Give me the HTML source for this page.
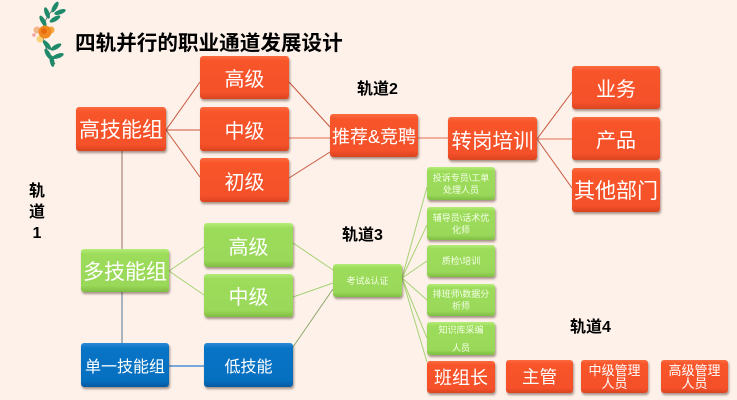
<!DOCTYPE html>
<html><head><meta charset="utf-8">
<style>
html,body{margin:0;padding:0;}
body{width:737px;height:400px;background:#fdf1e9;position:relative;overflow:hidden;font-family:"Liberation Sans","Noto Sans CJK SC",sans-serif;}
.b{position:absolute;box-sizing:border-box;border-radius:3px;color:#fff;display:flex;align-items:center;justify-content:center;text-align:center;white-space:nowrap;box-shadow:1px 2px 2px rgba(60,30,20,0.45);}
.o{background:linear-gradient(#fb6a40 0%,#f9552a 12%,#f5512a 85%,#d9441f 100%);}
.g{background:linear-gradient(#b4ec78 0%,#9ddc5b 12%,#9ad859 85%,#7fbc43 100%);}
.u{background:linear-gradient(#2a8ad6 0%,#0874c6 12%,#0670c0 85%,#0559a0 100%);}
.t{position:absolute;font-weight:bold;color:#000;white-space:nowrap;}
.s{font-size:9px;line-height:12px;color:#f4ffe8;}
</style></head><body>
<svg width="737" height="400" style="position:absolute;left:0;top:0">
  <!-- decoration -->
  <g>
    <path d="M58 4 Q40 22 43 36 Q45 50 55 64" stroke="#6b7f72" stroke-width="1" fill="none"/>
    <ellipse cx="55" cy="7" rx="2.3" ry="6" fill="#1f8a6a" transform="rotate(30 55 7)"/>
    <ellipse cx="60" cy="12" rx="2.3" ry="6" fill="#1f8a6a" transform="rotate(70 60 12)"/>
    <ellipse cx="47" cy="13" rx="2.3" ry="6" fill="#1f8a6a" transform="rotate(-20 47 13)"/>
    <ellipse cx="55" cy="19" rx="2.3" ry="6" fill="#1f8a6a" transform="rotate(60 55 19)"/>
    <ellipse cx="43" cy="21" rx="2.3" ry="6" fill="#1f8a6a" transform="rotate(-30 43 21)"/>
    <ellipse cx="47" cy="45" rx="2.3" ry="6" fill="#1f8a6a" transform="rotate(-40 47 45)"/>
    <ellipse cx="56" cy="47" rx="2.3" ry="6" fill="#1f8a6a" transform="rotate(60 56 47)"/>
    <ellipse cx="48" cy="54" rx="2.3" ry="6" fill="#1f8a6a" transform="rotate(-30 48 54)"/>
    <ellipse cx="58" cy="56" rx="2.3" ry="6" fill="#1f8a6a" transform="rotate(70 58 56)"/>
    <ellipse cx="52" cy="61" rx="2.3" ry="6" fill="#1f8a6a" transform="rotate(-10 52 61)"/>
    <circle cx="37" cy="30" r="3.5" fill="#f3b58a"/>
    <circle cx="51" cy="30" r="3.5" fill="#f7a640"/>
    <circle cx="40" cy="39" r="3.5" fill="#f9d07a"/>
    <circle cx="45" cy="32" r="6.5" fill="#f08a20"/>
    <circle cx="44" cy="31" r="3" fill="#e86a10"/>
    <circle cx="34" cy="35" r="1.8" fill="#f4a0a0"/>
  </g>
  <!-- orange lines -->
  <g stroke="#c9573e" stroke-width="1" fill="none">
    <line x1="166" y1="130" x2="200" y2="82"/>
    <line x1="166" y1="130" x2="200" y2="130"/>
    <line x1="166" y1="130" x2="200" y2="177"/>
    <line x1="289" y1="82" x2="330" y2="127"/>
    <line x1="289" y1="178" x2="330" y2="152"/>
    <line x1="537" y1="139" x2="572" y2="92"/>
    <line x1="537" y1="139" x2="572" y2="188"/>
  </g>
  <g stroke="#e88a72" stroke-width="1.3" fill="none">
    <line x1="289" y1="138" x2="330" y2="138"/>
    <line x1="418" y1="138" x2="448" y2="138"/>
    <line x1="537" y1="139" x2="572" y2="139"/>
  </g>
  <!-- vertical -->
  <line x1="122" y1="151" x2="122" y2="249" stroke="#b99a8d" stroke-width="1.5"/>
  <line x1="122" y1="292" x2="122" y2="343" stroke="#8f9faf" stroke-width="1.5"/>
  <!-- green lines -->
  <g stroke="#a6d274" stroke-width="1" fill="none">
    <line x1="169" y1="271" x2="204" y2="247"/>
    <line x1="169" y1="271" x2="204" y2="295"/>
    <line x1="293" y1="243" x2="333" y2="270"/>
    <line x1="293" y1="297" x2="333" y2="283"/>
    <line x1="402" y1="278" x2="427" y2="187"/>
    <line x1="402" y1="278" x2="427" y2="225"/>
    <line x1="402" y1="278" x2="427" y2="261"/>
    <line x1="402" y1="278" x2="427" y2="300"/>
    <line x1="402" y1="278" x2="427" y2="338"/>
    <line x1="402" y1="278" x2="427" y2="362"/>
  </g>
  <line x1="293" y1="347" x2="333" y2="289" stroke="#8aa86a" stroke-width="1"/>
  <!-- blue line -->
  <line x1="169" y1="366" x2="204" y2="366" stroke="#4a90d4" stroke-width="1.5"/>
</svg>

<div class="t" style="left:75px;top:26px;font-size:20.6px;">四轨并行的职业通道发展设计</div>
<div class="t" style="left:357px;top:75px;font-size:16px;">轨道2</div>
<div class="t" style="left:342px;top:221px;font-size:16px;">轨道3</div>
<div class="t" style="left:570px;top:313px;font-size:16px;">轨道4</div>
<div class="t" style="left:28px;top:181px;font-size:16px;line-height:21px;text-align:center;width:18px;white-space:normal;">轨<br>道<br>1</div>

<!-- track 1 orange -->
<div class="b o" style="left:76px;top:107px;width:90px;height:44px;font-size:21px;">高技能组</div>
<div class="b o" style="left:200px;top:56px;width:89px;height:43px;font-size:20px;">高级</div>
<div class="b o" style="left:200px;top:107px;width:89px;height:44px;font-size:20px;">中级</div>
<div class="b o" style="left:200px;top:158px;width:89px;height:44px;font-size:20px;">初级</div>
<div class="b o" style="left:330px;top:114px;width:88px;height:43px;font-size:18px;">推荐&amp;竞聘</div>
<div class="b o" style="left:448px;top:117px;width:89px;height:43px;font-size:20.5px;">转岗培训</div>
<div class="b o" style="left:572px;top:66px;width:88px;height:43px;font-size:20px;">业务</div>
<div class="b o" style="left:572px;top:117px;width:88px;height:43px;font-size:20px;">产品</div>
<div class="b o" style="left:572px;top:168px;width:88px;height:44px;font-size:21px;">其他部门</div>

<!-- green -->
<div class="b g" style="left:81px;top:249px;width:88px;height:43px;font-size:21px;">多技能组</div>
<div class="b g" style="left:204px;top:223px;width:89px;height:44px;font-size:20px;">高级</div>
<div class="b g" style="left:204px;top:274px;width:89px;height:43px;font-size:20px;">中级</div>
<div class="b g" style="left:333px;top:264px;width:69px;height:33px;font-size:9px;color:#f4ffe8;">考试&amp;认证</div>
<div class="b g s" style="left:427px;top:167px;width:68px;height:33px;">投诉专员\工单<br>处理人员</div>
<div class="b g s" style="left:427px;top:207px;width:68px;height:33px;">辅导员\话术优<br>化师</div>
<div class="b g s" style="left:427px;top:245px;width:68px;height:32px;">质检\培训</div>
<div class="b g s" style="left:427px;top:284px;width:68px;height:32px;">排班师\数据分<br>析师</div>
<div class="b g s" style="left:427px;top:322px;width:68px;height:33px;line-height:18px;">知识库采编<br>人员</div>

<!-- blue -->
<div class="b u" style="left:81px;top:343px;width:88px;height:44px;font-size:16px;">单一技能组</div>
<div class="b u" style="left:204px;top:343px;width:89px;height:44px;font-size:16px;">低技能</div>

<!-- track 4 -->
<div class="b o" style="left:427px;top:361px;width:68px;height:32px;font-size:18px;">班组长</div>
<div class="b o" style="left:506px;top:360px;width:67px;height:33px;font-size:17.5px;">主管</div>
<div class="b o" style="left:581px;top:360px;width:67px;height:33px;font-size:13px;line-height:13px;white-space:normal;">中级管理<br>人员</div>
<div class="b o" style="left:661px;top:360px;width:67px;height:33px;font-size:13px;line-height:13px;white-space:normal;">高级管理<br>人员</div>
</body></html>
